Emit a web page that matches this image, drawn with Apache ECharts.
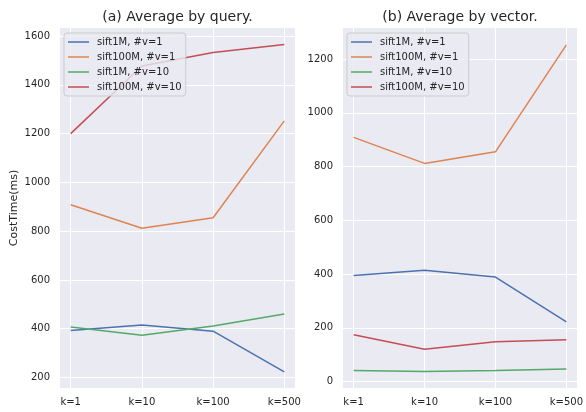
<!DOCTYPE html>
<html>
<head>
<meta charset="utf-8">
<script src="https://cdn.jsdelivr.net/npm/echarts@6/dist/echarts.min.js"></script>
<style>
html,body{margin:0;padding:0;background:#fff;}
#chart{width:586px;height:412px;}
</style>
</head>
<body>
<div id="chart"></div>
<script>
const categories = ['k=1', 'k=10', 'k=100', 'k=500'];
const seriesNames = ['sift1M, #v=1', 'sift100M, #v=1', 'sift1M, #v=10', 'sift100M, #v=10'];
// (a) Average by query
const queryS1v1 = [393, 415, 390, 223];
const queryS100v1 = [908, 812, 855, 1252];
const queryS1v10 = [407, 373, 411, 460];
const queryS100v10 = [1200, 1477, 1533, 1565];
// (b) Average by vector
const vectorS1v1 = [395, 414, 389, 222];
const vectorS100v1 = [909, 812, 855, 1253];
const vectorS1v10 = [41, 37, 41, 47];
const vectorS100v10 = [174, 120, 148, 156];
const yTicksQuery = [200, 400, 600, 800, 1000, 1200, 1400, 1600];
const yTicksVector = [0, 200, 400, 600, 800, 1000, 1200];

const colors = ['#4C72B0', '#DD8452', '#55A868', '#C44E52'];
const textColor = '#262626';
const font = 'DejaVu Sans';

const xIdx = categories.map((c, i) => i);
function pairs(arr) { return arr.map((v, i) => [xIdx[i], v]); }

function xAxisFor(gi) {
  return {
    type: 'value', gridIndex: gi, min: -0.15, max: 3.15,
    axisLine: {show: false}, axisTick: {show: false, customValues: xIdx},
    axisLabel: {customValues: xIdx, formatter: v => categories[Math.round(v)] || '',
      color: textColor, fontSize: 10, fontFamily: font, margin: 9},
    splitLine: {show: true, lineStyle: {color: '#ffffff', width: 1}}
  };
}
function yAxisFor(gi, min, max, ticks, name) {
  return {
    type: 'value', gridIndex: gi, min: min, max: max,
    name: name || '', nameLocation: 'middle', nameGap: 40,
    nameTextStyle: {color: textColor, fontSize: 11, fontFamily: font},
    axisLine: {show: false}, axisTick: {show: false, customValues: ticks},
    axisLabel: {customValues: ticks, formatter: v => String(Math.round(v)),
      color: textColor, fontSize: 10, fontFamily: font, margin: 10},
    splitLine: {show: true, lineStyle: {color: '#ffffff', width: 1}}
  };
}
function lineSeries(name, data, gi, ci) {
  return {
    type: 'line', name: name, xAxisIndex: gi, yAxisIndex: gi,
    data: pairs(data), symbol: 'none', color: colors[ci],
    lineStyle: {width: 1.5, color: colors[ci]}, animation: false
  };
}
function legendFor(left) {
  return {
    data: seriesNames, orient: 'vertical', left: left, top: 33,
    icon: 'rect', itemWidth: 21, itemHeight: 1.5, itemGap: 3,
    padding: [3, 4, 3, 4],
    backgroundColor: 'rgba(234,234,242,0.8)', borderColor: '#cccccc', borderWidth: 1, borderRadius: 3,
    textStyle: {color: textColor, fontSize: 10, fontFamily: font, lineHeight: 12, padding: [0, 0, 0, 3]},
    selectedMode: false
  };
}

const chart = echarts.init(document.getElementById('chart'), null, {renderer: 'canvas'});
chart.setOption({
  animation: false,
  backgroundColor: '#ffffff',
  title: [
    {text: '(a) Average by query.', left: 177.5, textAlign: 'center', top: 10, padding: 0,
      textStyle: {color: textColor, fontSize: 14, fontWeight: 'normal', fontFamily: font}},
    {text: '(b) Average by vector.', left: 460, textAlign: 'center', top: 10, padding: 0,
      textStyle: {color: textColor, fontSize: 14, fontWeight: 'normal', fontFamily: font}}
  ],
  grid: [
    {left: 60, top: 28, width: 235, height: 360, show: true, backgroundColor: '#EAEAF2', borderWidth: 0},
    {left: 343, top: 28, width: 234, height: 360, show: true, backgroundColor: '#EAEAF2', borderWidth: 0}
  ],
  xAxis: [xAxisFor(0), xAxisFor(1)],
  yAxis: [yAxisFor(0, 157, 1633, yTicksQuery, 'CostTime(ms)'), yAxisFor(1, -24, 1316, yTicksVector)],
  legend: [legendFor(64), legendFor(347)],
  series: [
    lineSeries(seriesNames[0], queryS1v1, 0, 0),
    lineSeries(seriesNames[1], queryS100v1, 0, 1),
    lineSeries(seriesNames[2], queryS1v10, 0, 2),
    lineSeries(seriesNames[3], queryS100v10, 0, 3),
    lineSeries(seriesNames[0], vectorS1v1, 1, 0),
    lineSeries(seriesNames[1], vectorS100v1, 1, 1),
    lineSeries(seriesNames[2], vectorS1v10, 1, 2),
    lineSeries(seriesNames[3], vectorS100v10, 1, 3)
  ]
});
</script>
</body>
</html>
